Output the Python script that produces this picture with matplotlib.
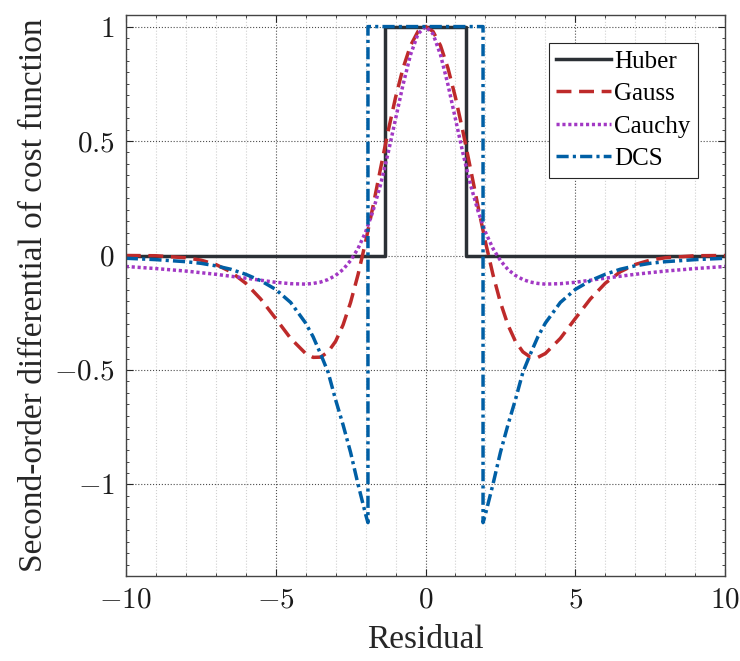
import numpy as np
import matplotlib.pyplot as plt
from matplotlib.ticker import MultipleLocator

plt.rcParams['mathtext.fontset'] = 'cm'
plt.rcParams['font.family'] = ['Liberation Serif', 'DejaVu Serif']

# Huber: step function
huber_x = [-10, -1.345, -1.345, 1.345, 1.345, 10]
huber_y = [0, 0, 1, 1, 0, 0]

# Gauss and Cauchy share the same residual samples
gc_x = [-10, -9, -8, -7.5, -7, -6.5, -6, -5.5, -5, -4.5, -4, -3.75, -3.5, -3.25,
        -3, -2.75, -2.5, -2.25, -2, -1.75, -1.5, -1.25, -1, -0.75, -0.5, -0.25,
        0, 0.25, 0.5, 0.75, 1, 1.25, 1.5, 1.75, 2, 2.25, 2.5, 2.75, 3, 3.25,
        3.5, 3.75, 4, 4.5, 5, 5.5, 6, 6.5, 7, 7.5, 8, 9, 10]
gauss_y = [0, -0.001, -0.01, -0.02, -0.039, -0.071, -0.121, -0.19, -0.275, -0.362,
           -0.428, -0.445, -0.444, -0.421, -0.375, -0.303, -0.205, -0.083, 0.059,
           0.216, 0.38, 0.541, 0.69, 0.818, 0.917, 0.979, 1.0,
           0.979, 0.917, 0.818, 0.69, 0.541, 0.38, 0.216, 0.059, -0.083, -0.205,
           -0.303, -0.375, -0.421, -0.444, -0.445, -0.428, -0.362, -0.275, -0.19,
           -0.121, -0.071, -0.039, -0.02, -0.01, -0.001, 0]
cauchy_y = [-0.048, -0.057, -0.068, -0.075, -0.082, -0.0905, -0.099, -0.108, -0.117,
            -0.123, -0.125, -0.122, -0.116, -0.105, -0.087, -0.061, -0.022, 0.031,
            0.102, 0.195, 0.31, 0.446, 0.596, 0.746, 0.877, 0.968, 1.0,
            0.968, 0.877, 0.746, 0.596, 0.446, 0.31, 0.195, 0.102, 0.031, -0.022,
            -0.061, -0.087, -0.105, -0.116, -0.122, -0.125, -0.123, -0.117, -0.108,
            -0.099, -0.0905, -0.082, -0.075, -0.068, -0.057, -0.048]

# DCS
dcs_x = [-10, -9, -8, -7.5, -7, -6.5, -6, -5.5, -5, -4.5, -4, -3.75, -3.5, -3.25,
         -3, -2.75, -2.5, -2.25, -2, -1.92, -1.92, 1.92, 1.92, 2, 2.25, 2.5, 2.75,
         3, 3.25, 3.5, 3.75, 4, 4.5, 5, 5.5, 6, 6.5, 7, 7.5, 8, 9, 10]
dcs_y = [-0.012, -0.018, -0.027, -0.034, -0.045, -0.06, -0.082, -0.11, -0.148, -0.205,
         -0.295, -0.355, -0.43, -0.51, -0.63, -0.74, -0.86, -1.0, -1.13, -1.167,
         1, 1, -1.167, -1.13, -1.0, -0.86, -0.74, -0.63, -0.51, -0.43, -0.355,
         -0.295, -0.205, -0.148, -0.11, -0.082, -0.06, -0.045, -0.034, -0.027,
         -0.018, -0.012]

xticks = [-10, -5, 0, 5, 10]
xtick_labels = [r'$-10$', r'$-5$', r'$0$', r'$5$', r'$10$']
yticks = [-1, -0.5, 0, 0.5, 1]
ytick_labels = [r'$-1$', r'$-0.5$', r'$0$', r'$0.5$', r'$1$']

fig = plt.figure(figsize=(7.4, 6.61), dpi=100)
ax = fig.add_axes([0.170, 0.1286, 0.810, 0.8485])

lw = 2.5
ax.plot(huber_x, huber_y, color='#2b3035', lw=lw, ls='-', label='Huber')
ax.plot(gc_x, gauss_y, color='#be2a2a', lw=lw, ls=(0, (4.3, 2.2)), label='Gauss')
ax.plot(gc_x, cauchy_y, color='#a238c4', lw=lw, ls=(0, (0.9, 0.8)), label='Cauchy')
ax.plot(dcs_x, dcs_y, color='#005fa5', lw=lw, ls=(0, (3.5, 1.2, 0.9, 1.2)), label='DCS')

ax.set_xlim(-10, 10)
ax.set_ylim(-1.4, 1.05)
ax.set_xticks(xticks)
ax.set_xticklabels(xtick_labels)
ax.set_yticks(yticks)
ax.set_yticklabels(ytick_labels)
ax.xaxis.set_minor_locator(MultipleLocator(1))
ax.yaxis.set_minor_locator(MultipleLocator(0.05))
ax.tick_params(which='both', direction='in', top=True, right=True,
               labelsize=21, color='#262626', labelcolor='#1a1a1a', pad=8)
ax.tick_params(which='major', length=5, width=0.8)
ax.tick_params(which='minor', length=2.5, width=0.6)
ax.tick_params(axis='y', which='minor', length=2)

ax.grid(True, which='major', ls=':', color='0.3', lw=0.8)
ax.grid(True, which='minor', axis='x', ls=':', color='0.82', lw=0.8)
ax.set_axisbelow(True)
for s in ax.spines.values():
    s.set_color('#444444')
    s.set_linewidth(1.0)

ax.set_xlabel('Residual', fontsize=24, color='#262626', labelpad=8)
ax.set_ylabel('Second-order differential of cost function', fontsize=24,
              color='#262626', labelpad=4)

leg = ax.legend(loc='upper right', fontsize=18, handlelength=2.2,
                handletextpad=0.1, borderpad=0.3, labelspacing=0.4,
                borderaxespad=1.1, fancybox=False, framealpha=1)
leg.get_frame().set_edgecolor('#262626')
leg.get_frame().set_linewidth(0.8)

fig.savefig('out.png', dpi=100)
